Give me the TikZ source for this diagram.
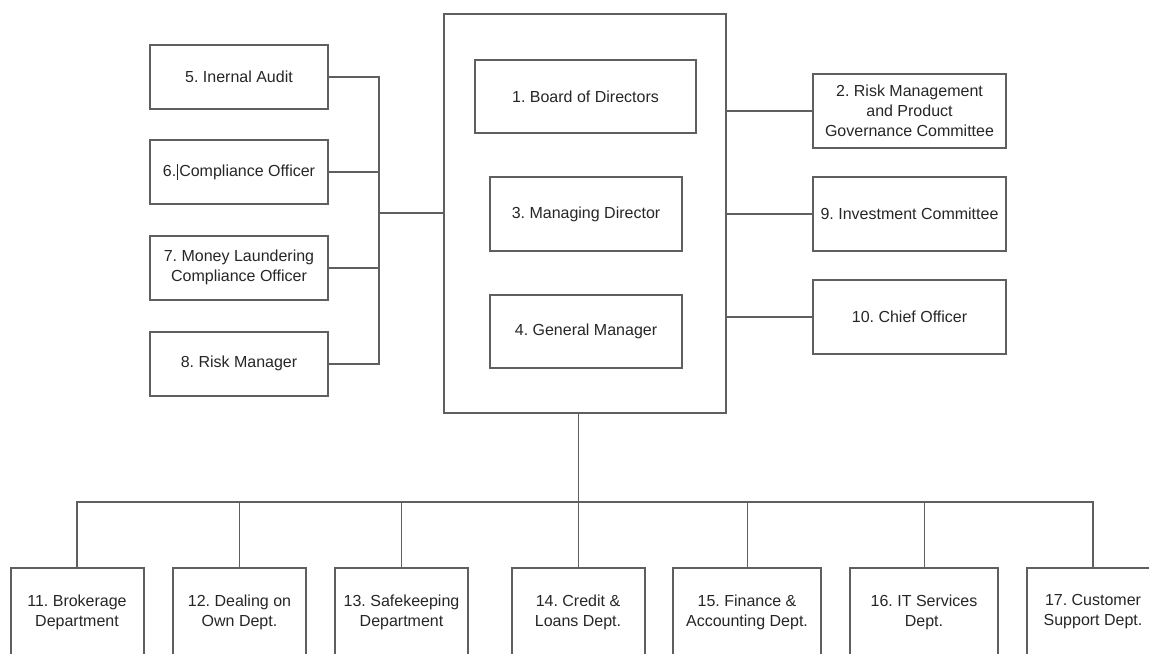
\documentclass[tikz,border=0pt]{standalone}
\usepackage{fontspec}
\setmainfont{Liberation Sans}
\frenchspacing
\definecolor{boxgray}{HTML}{5F5F5F}
\definecolor{txtgray}{HTML}{262626}
\begin{document}
\begin{tikzpicture}[x=0.5pt,y=-0.5pt]
\tikzstyle{box} = [draw=boxgray,line width=1pt,inner sep=2pt,align=center,text=txtgray,font=\fontsize{8}{10}\selectfont]
\tikzstyle{lbox} = [box,minimum width=89pt,minimum height=32pt]
\tikzstyle{rbox} = [box,minimum width=96.5pt,minimum height=37pt]
\tikzstyle{dbox} = [box,minimum width=66.5pt,minimum height=44pt]
\tikzstyle{link} = [draw=boxgray,line width=1pt]
\tikzstyle{thin} = [draw=boxgray,line width=0.5pt]

\useasboundingbox (0,0) rectangle (1149,653);
\clip (0,0) rectangle (1149,653);

% central frame
\node[box,minimum width=141pt,minimum height=199.5pt] (frame) at (585,213.5) {};
\node[box,minimum width=110.5pt,minimum height=36.5pt] (b1) at (585.5,96.5) {1. Board of Directors};
\node[box,minimum width=96pt,minimum height=37pt] (b3) at (586,214) {3. Managing Director};
\node[box,minimum width=96pt,minimum height=36.5pt] (b4) at (586,331.5) {4. General Manager};

% left column
\node[lbox] (b5) at (239,76.5) {5. Inernal Audit};
\node[lbox] (b6) at (239,172) {6.\hspace{0.5pt}\rule[-1.5pt]{0.5pt}{8pt}\hspace{0.5pt}Compliance Officer};
\node[lbox] (b7) at (239,267.5) {7. Money Laundering\\Compliance Officer};
\node[lbox] (b8) at (239,363.5) {8. Risk Manager};

% right column
\node[rbox] (b2) at (909.5,110.5) {2. Risk Management\\and Product\\Governance Committee};
\node[rbox] (b9) at (909.5,214) {9. Investment Committee};
\node[rbox] (b10) at (909.5,317) {10. Chief Officer};

% departments
\node[dbox] (b11) at (77,612) {11. Brokerage\\Department};
\node[dbox] (b12) at (239.5,612) {12. Dealing on\\Own Dept.};
\node[dbox] (b13) at (401.5,612) {13. Safekeeping\\Department};
\node[dbox] (b14) at (578,612) {14. Credit \&\\Loans Dept.};
\node[dbox,minimum width=74pt] (b15) at (747,612) {15. Finance \&\\Accounting Dept.};
\node[dbox,minimum width=74pt] (b16) at (924,612) {16. IT Services\\Dept.};
\node[dbox] (b17) at (1093,612) {17. Customer\\Support Dept.};

\coordinate (lbus) at (379,213);
\coordinate (dbus) at (578,502);

\draw[link] (b5.east) -| (lbus |- b8.east) -- (b8.east);
\draw[link] (b6.east) -- (lbus |- b6.east);
\draw[link] (b7.east) -- (lbus |- b7.east);
\draw[link] (lbus) -- (frame.west |- lbus);

\foreach \r in {b2,b9,b10}
  \draw[link] (frame.east |- \r.west) -- (\r.west);

\draw[thin] (frame.south -| b14) -- (b14.north);
\draw[link] (b11.north) |- (dbus) -| (b17.north);
\foreach \d in {b12,b13,b15,b16}
  \draw[thin] (dbus -| \d) -- (\d.north);
\end{tikzpicture}
\end{document}
